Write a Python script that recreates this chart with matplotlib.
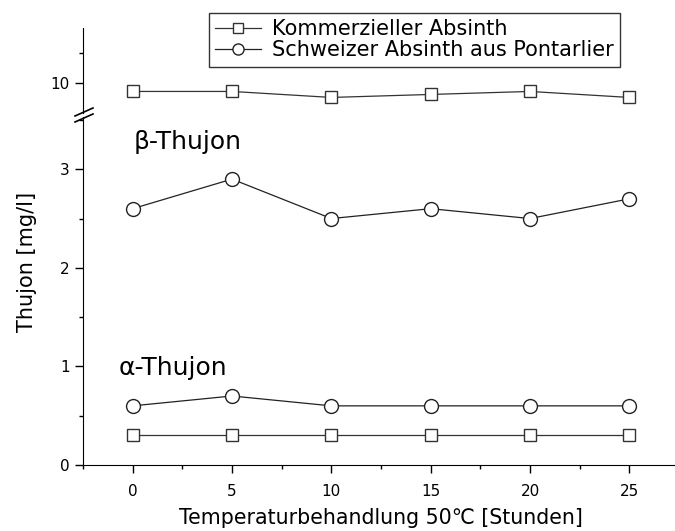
import matplotlib
matplotlib.use("Agg")
import matplotlib.pyplot as plt
from matplotlib.lines import Line2D
from matplotlib.ticker import MultipleLocator

plt.rcParams['font.family'] = ['DejaVu Sans']

hours = [0, 5, 10, 15, 20, 25]
# Kommerzieller Absinth
komm_beta = [9.86, 9.86, 9.76, 9.81, 9.86, 9.76]
komm_alpha = [0.3, 0.3, 0.3, 0.3, 0.3, 0.3]
# Schweizer Absinth aus Pontarlier
schw_beta = [2.6, 2.9, 2.5, 2.6, 2.5, 2.7]
schw_alpha = [0.6, 0.7, 0.6, 0.6, 0.6, 0.6]

W, H = 675, 531
fig = plt.figure(figsize=(W / 100, H / 100), dpi=100)

left = 83 / W
width = (679 - 83) / W
ax_lo = fig.add_axes([left, 1 - 465 / H, width, (465 - 117) / H])
ax_hi = fig.add_axes([left, 1 - 113 / H, width, (113 - 28) / H])

sq = dict(marker='s', ms=9, mfc='white', mec='#333333', mew=1.0,
          color='#333333', lw=0.9)
ci = dict(marker='o', ms=10, mfc='white', mec='#222222', mew=1.0,
          color='#222222', lw=0.9)

ax_lo.plot(hours, komm_alpha, **sq)
ax_lo.plot(hours, schw_alpha, **ci)
ax_lo.plot(hours, schw_beta, **ci)
ax_hi.plot(hours, komm_beta, **sq)

for ax in (ax_lo, ax_hi):
    ax.set_xlim(-2.5, 27.5)
    ax.spines['top'].set_visible(False)
    ax.spines['right'].set_visible(False)
    ax.tick_params(which='major', direction='out', length=6, width=1,
                   labelsize=11)
    ax.tick_params(which='minor', direction='out', length=3, width=1)
    ax.set_facecolor('none')

ax_lo.set_ylim(0, 3.53)
ax_lo.yaxis.set_major_locator(MultipleLocator(1))
ax_lo.yaxis.set_minor_locator(MultipleLocator(0.5))
ax_lo.xaxis.set_major_locator(MultipleLocator(5))
ax_lo.xaxis.set_minor_locator(MultipleLocator(2.5))
ax_lo.tick_params(axis='x', pad=8)

ax_hi.set_ylim(9.5, 10.92)
ax_hi.set_yticks([10])
ax_hi.set_yticks([10.5], minor=True)
ax_hi.spines['bottom'].set_visible(False)
ax_hi.tick_params(axis='x', which='both', bottom=False, labelbottom=False)

ax_lo.set_xlabel('Temperaturbehandlung 50\u2103 [Stunden]', fontsize=14.8,
                 labelpad=6)
fig.text(27 / W, 1 - 262 / H, 'Thujon [mg/l]', rotation=90, fontsize=15,
         ha='center', va='center')

ax_lo.text(0.05, 3.28, '\u03b2-Thujon', fontsize=18, ha='left',
           va='center')
ax_lo.text(-0.7, 0.98, '\u03b1-Thujon', fontsize=18, ha='left',
           va='center')

# axis break marks
for yb in (112, 118):
    fig.add_artist(Line2D([75 / W, 93 / W],
                          [1 - (yb + 4) / H, 1 - (yb - 4) / H],
                          color='black', lw=1.2))

handles = [Line2D([], [], **sq), Line2D([], [], **ci)]
fig.legend(handles, ['Kommerzieller Absinth',
                     'Schweizer Absinth aus Pontarlier'],
           loc='upper left', bbox_to_anchor=(209 / W, 1 - 13 / H),
           fontsize=15, frameon=True, fancybox=False, edgecolor='black',
           handlelength=2.2, handletextpad=0.5, borderpad=0.3,
           labelspacing=0.05, borderaxespad=0, markerscale=0.8)

fig.savefig('out.png', dpi=100)
